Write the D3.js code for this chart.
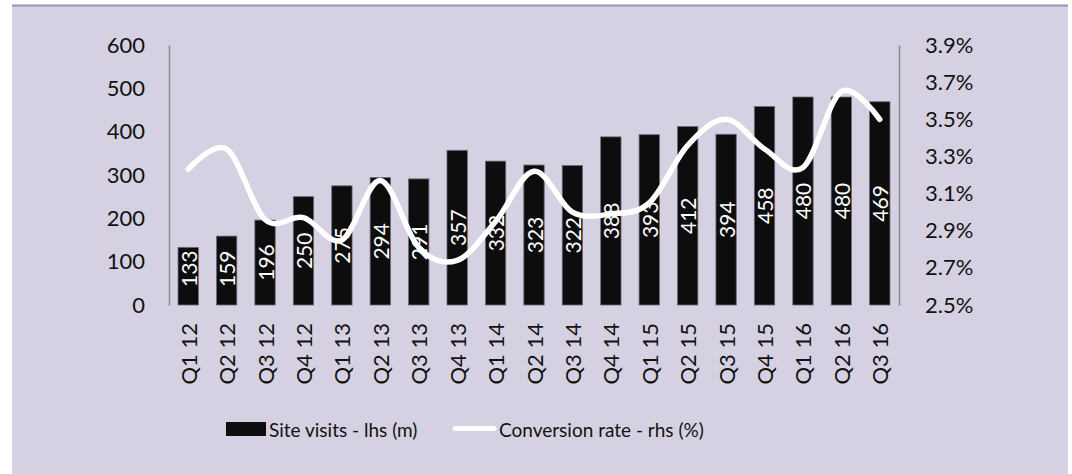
<!DOCTYPE html>
<html>
<head>
<meta charset="utf-8">
<script src="https://cdn.jsdelivr.net/npm/d3@7/dist/d3.min.js"></script>
<style>
  html, body { margin: 0; padding: 0; background: #ffffff; }
  svg { display: block; }
  text { font-family: Lato, "Open Sans", sans-serif; }
</style>
</head>
<body>
<svg id="chart" width="1072" height="474"></svg>
<script>
// Quarterly site visits (millions) and conversion rate (%)
const quarters = ["Q1 12","Q2 12","Q3 12","Q4 12","Q1 13","Q2 13","Q3 13","Q4 13",
                  "Q1 14","Q2 14","Q3 14","Q4 14","Q1 15","Q2 15","Q3 15","Q4 15",
                  "Q1 16","Q2 16","Q3 16"];
const siteVisits = [133,159,196,250,275,294,291,357,332,323,322,388,393,412,394,458,480,480,469];
const conversionRate = [3.23,3.34,2.96,2.97,2.85,3.17,2.81,2.74,2.95,3.22,3.00,2.99,3.05,3.36,3.50,3.34,3.24,3.65,3.50];

const leftTicks = [0,100,200,300,400,500,600];
const rightTicks = [2.5,2.7,2.9,3.1,3.3,3.5,3.7,3.9];

const legendLabels = ["Site visits - lhs (m)", "Conversion rate - rhs (%)"];

const W = 1072, H = 474;
const plot = { left: 169, right: 899, top: 45, bottom: 305 };

const svg = d3.select("#chart");

// panel background and top rule
svg.append("rect").attr("x", 12).attr("y", 5).attr("width", 1056).attr("height", H - 5)
  .attr("fill", "#d5d1e2");
svg.append("line").attr("x1", 12).attr("x2", 1068).attr("y1", 5.5).attr("y2", 5.5)
  .attr("stroke", "#9b90bb").attr("stroke-width", 2);

const x = d3.scaleBand().domain(quarters).range([plot.left, plot.right])
  .paddingInner(0.47).paddingOuter(0.235);
const yL = d3.scaleLinear().domain([0, 600]).range([plot.bottom, plot.top]);
const yR = d3.scaleLinear().domain([2.5, 3.9]).range([plot.bottom, plot.top]);

// axes
const leftAxis = d3.axisLeft(yL).tickValues(leftTicks).tickSize(0).tickPadding(24);
const rightAxis = d3.axisRight(yR).tickValues(rightTicks).tickSize(0).tickPadding(26)
  .tickFormat(d => d3.format(".1f")(d) + "%");

const gL = svg.append("g").attr("transform", `translate(${plot.left},0)`).call(leftAxis);
const gR = svg.append("g").attr("transform", `translate(${plot.right},0)`).call(rightAxis);
[gL, gR].forEach(g => {
  g.select(".domain").attr("stroke", "#8c8c8c").attr("stroke-width", 1.5);
  g.selectAll("text").attr("font-size", 22).attr("fill", "#111").attr("font-family", "Lato");
});

// bars
svg.append("g").selectAll("rect").data(siteVisits).join("rect")
  .attr("x", (d, i) => x(quarters[i]))
  .attr("y", d => yL(d))
  .attr("width", x.bandwidth())
  .attr("height", d => yL(0) - yL(d))
  .attr("fill", "#0d0d0d")
  .attr("stroke", "#6e6a78").attr("stroke-width", 0.8);

// bar value labels, centred in the bar but kept clear of the baseline
const lblG = svg.append("g");
siteVisits.forEach((v, i) => {
  const cx = x(quarters[i]) + x.bandwidth() / 2;
  const t = lblG.append("text").text(v)
    .attr("font-size", 21).attr("fill", "#ffffff")
    .attr("text-anchor", "middle").attr("dominant-baseline", "central");
  const half = t.node().getComputedTextLength() / 2;
  const mid = (yL(v) + yL(0)) / 2;
  const cy = Math.min(mid, yL(0) - 18 - half);
  t.attr("transform", `translate(${cx},${cy}) rotate(-90)`);
});

// conversion rate line
const line = d3.line()
  .x((d, i) => x(quarters[i]) + x.bandwidth() / 2)
  .y(d => yR(d))
  .curve(d3.curveCardinal.tension(0));
svg.append("path").datum(conversionRate).attr("d", line)
  .attr("fill", "none").attr("stroke", "#ffffff").attr("stroke-width", 5.5)
  .attr("stroke-linecap", "round").attr("stroke-linejoin", "round");

// category labels
svg.append("g").selectAll("text").data(quarters).join("text")
  .text(d => d)
  .attr("font-size", 22).attr("fill", "#111")
  .attr("text-anchor", "end").attr("dominant-baseline", "central")
  .attr("transform", d => `translate(${x(d) + x.bandwidth() / 2},${plot.bottom + 18}) rotate(-90)`);

// legend
const lg = svg.append("g");
lg.append("rect").attr("x", 226).attr("y", 422).attr("width", 40).attr("height", 14).attr("fill", "#0d0d0d");
lg.append("text").attr("x", 269).attr("y", 429).attr("dominant-baseline", "central")
  .attr("font-size", 19).attr("fill", "#111").text(legendLabels[0]);
lg.append("line").attr("x1", 455).attr("x2", 494).attr("y1", 428.5).attr("y2", 428.5)
  .attr("stroke", "#ffffff").attr("stroke-width", 5).attr("stroke-linecap", "round");
lg.append("text").attr("x", 499).attr("y", 429).attr("dominant-baseline", "central")
  .attr("font-size", 19).attr("fill", "#111").text(legendLabels[1]);
</script>
</body>
</html>
